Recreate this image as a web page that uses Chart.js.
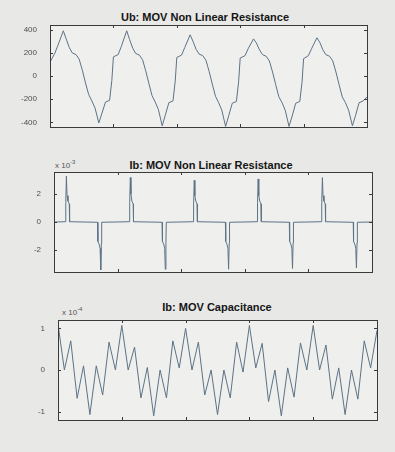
<!DOCTYPE html>
<html>
<head>
<meta charset="utf-8">
<script src="https://cdn.jsdelivr.net/npm/chart.js@4.4.0/dist/chart.umd.min.js"></script>
<style>
  html, body { margin: 0; padding: 0; }
  body {
    width: 395px; height: 452px; position: relative; overflow: hidden;
    background: #e8e8e6; font-family: "Liberation Sans", Arial, sans-serif;
  }
  canvas { position: absolute; left: 0; }
  .ttl { position: absolute; font-weight: bold; font-size: 11px; color: #151515;
         white-space: nowrap; transform: translate(-50%, -50%); }
  .exp { position: absolute; font-size: 8px; color: #555; white-space: nowrap; }
  .exp sup { font-size: 6px; }
</style>
</head>
<body>
<div class="ttl" style="left:205px; top:17px">Ub: MOV Non Linear Resistance</div>
<div class="ttl" style="left:211px; top:165px">Ib: MOV Non Linear Resistance</div>
<div class="exp" style="left:55px; top:159px">x 10<sup>-3</sup></div>
<div class="ttl" style="left:217px; top:307px">Ib: MOV Capacitance</div>
<div class="exp" style="left:62px; top:306px">x 10<sup>-4</sup></div>

<canvas id="ubChart" width="395" height="150" style="top:0px"></canvas>
<canvas id="ibChart" width="395" height="148" style="top:150px"></canvas>
<canvas id="icChart" width="395" height="154" style="top:298px"></canvas>

<script>
// shared x axis (time, s)
var xTicks = [0, 0.02, 0.04, 0.06, 0.08, 0.1];
var xTickText = ['0', '0.02', '0.04', '0.06', '0.08', '0.1'];

// Ub: MOV non linear resistance (V)
var ubTime = [
  0, 0.0015, 0.0025, 0.0042, 0.0051, 0.0061, 0.0070, 0.0082, 0.0092, 0.0102,
  0.0112, 0.0122, 0.0132, 0.0142, 0.0154, 0.0164, 0.0175, 0.0188, 0.0195,
  0.0200, 0.0215, 0.0225, 0.0242, 0.0251, 0.0261, 0.0270, 0.0282, 0.0292, 0.0302,
  0.0312, 0.0322, 0.0332, 0.0342, 0.0354, 0.0364, 0.0375, 0.0388, 0.0395,
  0.0400, 0.0415, 0.0425, 0.0442, 0.0451, 0.0461, 0.0470, 0.0482, 0.0492, 0.0502,
  0.0512, 0.0522, 0.0532, 0.0542, 0.0554, 0.0564, 0.0575, 0.0588, 0.0595,
  0.0600, 0.0615, 0.0625, 0.0642, 0.0651, 0.0661, 0.0670, 0.0682, 0.0692, 0.0702,
  0.0712, 0.0722, 0.0732, 0.0742, 0.0754, 0.0764, 0.0775, 0.0788, 0.0795,
  0.0800, 0.0815, 0.0825, 0.0842, 0.0851, 0.0861, 0.0870, 0.0882, 0.0892, 0.0902,
  0.0912, 0.0922, 0.0932, 0.0942, 0.0954, 0.0964, 0.0975, 0.0988, 0.1000
];
var ubVolt = [
  120, 195, 265, 390, 320, 245, 200, 185, 145, 50,
  -60, -160, -215, -275, -405, -320, -225, -210, -40,
  165, 185, 255, 390, 315, 240, 195, 180, 140, 45,
  -65, -170, -225, -290, -430, -335, -230, -215, -45,
  160, 180, 245, 355, 300, 230, 190, 175, 135, 40,
  -70, -175, -230, -295, -435, -340, -235, -220, -50,
  155, 175, 235, 320, 285, 225, 185, 170, 130, 35,
  -75, -180, -230, -295, -435, -345, -235, -220, -55,
  150, 175, 235, 330, 290, 225, 185, 170, 130, 35,
  -75, -180, -230, -295, -430, -340, -230, -215, -180
];
var ubTicks = [-400, -200, 0, 200, 400];

// Ib: MOV non linear resistance (x 10^-3 A)
var ibTime = [
  0,
  0.0036, 0.0037, 0.0039, 0.0041, 0.0044, 0.0048, 0.0049,
  0.0137, 0.0138, 0.0142, 0.0145, 0.0147, 0.0149, 0.0150,
  0.0237, 0.0238, 0.0240, 0.0242, 0.0245, 0.0249, 0.0250,
  0.0340, 0.0341, 0.0345, 0.0348, 0.0350, 0.0352, 0.0353,
  0.0438, 0.0439, 0.0441, 0.0443, 0.0446, 0.0450, 0.0451,
  0.0539, 0.0540, 0.0544, 0.0547, 0.0549, 0.0551, 0.0552,
  0.0639, 0.0640, 0.0642, 0.0644, 0.0647, 0.0651, 0.0652,
  0.0740, 0.0741, 0.0745, 0.0748, 0.0750, 0.0752, 0.0753,
  0.0841, 0.0842, 0.0844, 0.0846, 0.0849, 0.0853, 0.0854,
  0.0941, 0.0942, 0.0946, 0.0949, 0.0951, 0.0953, 0.0954,
  0.1
];
var ibVal = [
  0,
  0.02, 1.4, 3.3, 1.9, 1.5, 1.3, 0.02,
  -0.02, -1.4, -1.6, -1.9, -3.45, -1.5, -0.02,
  0.02, 1.4, 3.2, 2.0, 1.5, 1.3, 0.02,
  -0.02, -1.4, -1.6, -1.9, -3.4, -1.5, -0.02,
  0.02, 1.3, 3.0, 1.9, 1.5, 1.3, 0.02,
  -0.02, -1.4, -1.6, -1.9, -3.4, -1.5, -0.02,
  0.02, 1.4, 3.1, 1.9, 1.5, 1.3, 0.02,
  -0.02, -1.4, -1.6, -1.9, -3.35, -1.5, -0.02,
  0.02, 1.4, 3.2, 1.9, 1.5, 1.3, 0.02,
  -0.02, -1.4, -1.6, -1.9, -3.3, -1.5, -0.02,
  0
];
var ibTicks = [-2, 0, 2];

// Ib: MOV capacitance (x 10^-4 A)
var icTime = [
  0, 0.002, 0.004, 0.006, 0.008, 0.010, 0.012, 0.014, 0.016, 0.018,
  0.020, 0.022, 0.024, 0.026, 0.028, 0.030, 0.032, 0.034, 0.036, 0.038,
  0.040, 0.042, 0.044, 0.046, 0.048, 0.050, 0.052, 0.054, 0.056, 0.058,
  0.060, 0.062, 0.064, 0.066, 0.068, 0.070, 0.072, 0.074, 0.076, 0.078,
  0.080, 0.082, 0.084, 0.086, 0.088, 0.090, 0.092, 0.094, 0.096, 0.098,
  0.100
];
var icVal = [
  1.10, 0.00, 0.70, -0.68, 0.10, -1.07, 0.10, -0.60, 0.67, 0.00,
  1.07, 0.00, 0.55, -0.67, 0.06, -1.10, 0.00, -0.67, 0.70, 0.05,
  1.00, 0.00, 0.67, -0.60, 0.00, -1.07, 0.00, -0.67, 0.67, -0.05,
  1.07, 0.05, 0.64, -0.76, 0.00, -1.10, 0.05, -0.65, 0.65, 0.00,
  1.07, 0.00, 0.60, -0.70, 0.05, -1.07, 0.00, -0.70, 0.70, 0.05,
  0.95
];
var icTicks = [-1, 0, 1];

Chart.defaults.font.family = '"Liberation Sans", Arial, sans-serif';
Chart.defaults.font.size = 8;
Chart.defaults.color = '#4e4e4e';

// MATLAB style box with inward ticks
var boxPlugin = {
  id: 'box',
  beforeDraw: function(chart) {
    var a = chart.chartArea, ctx = chart.ctx;
    ctx.save();
    ctx.fillStyle = '#efefed';
    ctx.fillRect(a.left, a.top, a.right - a.left, a.bottom - a.top);
    ctx.restore();
  },
  afterDatasetsDraw: function(chart) {
    var a = chart.chartArea, ctx = chart.ctx;
    var xs = chart.scales.x, ys = chart.scales.y;
    ctx.save();
    ctx.strokeStyle = '#3a3a3a';
    ctx.lineWidth = 1;
    ctx.strokeRect(Math.round(a.left) + 0.5, Math.round(a.top) + 0.5,
                   Math.round(a.right - a.left), Math.round(a.bottom - a.top));
    ctx.beginPath();
    xs.ticks.forEach(function(t) {
      var px = Math.round(xs.getPixelForValue(t.value)) + 0.5;
      ctx.moveTo(px, a.bottom); ctx.lineTo(px, a.bottom - 3);
      ctx.moveTo(px, a.top); ctx.lineTo(px, a.top + 3);
    });
    ys.ticks.forEach(function(t) {
      var py = Math.round(ys.getPixelForValue(t.value)) + 0.5;
      ctx.moveTo(a.left, py); ctx.lineTo(a.left + 3, py);
      ctx.moveTo(a.right, py); ctx.lineTo(a.right - 3, py);
    });
    ctx.stroke();
    ctx.restore();
  }
};

function makePlot(id, times, values, yMin, yMax, yTicks, pad, xPad) {
  var pts = times.map(function(t, i) { return { x: t, y: values[i] }; });
  return new Chart(document.getElementById(id).getContext('2d'), {
    type: 'line',
    data: {
      datasets: [{
        data: pts,
        borderColor: '#5d7386',
        borderWidth: 1,
        pointRadius: 0,
        tension: 0
      }]
    },
    options: {
      responsive: false,
      animation: false,
      layout: { padding: pad },
      plugins: { legend: { display: false }, tooltip: { enabled: false } },
      scales: {
        x: {
          type: 'linear', min: 0, max: 0.1,
          grid: { display: false }, border: { display: false },
          afterBuildTicks: function(s) { s.ticks = xTicks.map(function(v) { return { value: v }; }); },
          afterFit: function(s) { s.height = 16; },
          ticks: {
            padding: xPad, maxRotation: 0, autoSkip: false,
            callback: function(v, i) { return xTickText[i]; }
          }
        },
        y: {
          min: yMin, max: yMax,
          grid: { display: false }, border: { display: false },
          afterBuildTicks: function(s) { s.ticks = yTicks.map(function(v) { return { value: v }; }); },
          afterFit: function(s) { s.width = 36; },
          ticks: { padding: 5, autoSkip: false }
        }
      }
    },
    plugins: [boxPlugin]
  });
}

makePlot('ubChart', ubTime, ubVolt, -440, 440, ubTicks,
  { left: 14, right: 28, top: 25, bottom: 7 }, 7);
makePlot('ibChart', ibTime, ibVal, -3.6, 3.6, ibTicks,
  { left: 18, right: 23, top: 22, bottom: 10 }, 9);
makePlot('icChart', icTime, icVal, -1.2, 1.2, icTicks,
  { left: 22, right: 18, top: 22, bottom: 16 }, 11);
</script>
</body>
</html>
